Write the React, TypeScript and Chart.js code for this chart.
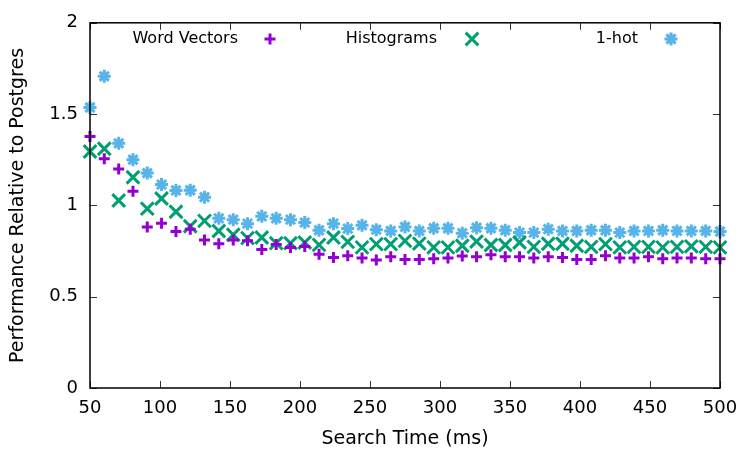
import React, { useEffect, useRef } from "react";
import { Chart, registerables } from "chart.js";

Chart.register(...registerables);

const searchTimes = [
  50, 60.2, 70.5, 80.7, 90.9, 101.1, 111.4, 121.6, 131.8, 142.0, 152.3, 162.5, 172.7, 183.0, 193.2,
  203.4, 213.6, 223.9, 234.1, 244.3, 254.5, 264.8, 275.0, 285.2, 295.5, 305.7, 315.9, 326.1, 336.4,
  346.6, 356.8, 367.0, 377.3, 387.5, 397.7, 408.0, 418.2, 428.4, 438.6, 448.9, 459.1, 469.3, 479.5,
  489.8, 500,
];

const wordVectors = [
  1.377, 1.255, 1.199, 1.078, 0.882, 0.902, 0.857, 0.87, 0.811, 0.79, 0.811, 0.806, 0.759, 0.786, 0.77,
  0.775, 0.732, 0.715, 0.724, 0.712, 0.701, 0.719, 0.704, 0.704, 0.708, 0.712, 0.723, 0.719, 0.73,
  0.719, 0.719, 0.712, 0.719, 0.715, 0.704, 0.704, 0.724, 0.712, 0.712, 0.719, 0.708, 0.712, 0.712,
  0.708, 0.708,
];

const histograms = [
  1.295, 1.31, 1.027, 1.154, 0.982, 1.038, 0.965, 0.886, 0.915, 0.86, 0.839, 0.821, 0.824, 0.793, 0.793,
  0.797, 0.784, 0.824, 0.8, 0.77, 0.788, 0.788, 0.806, 0.791, 0.77, 0.77, 0.779, 0.802, 0.783, 0.783,
  0.797, 0.773, 0.79, 0.79, 0.779, 0.773, 0.788, 0.77, 0.773, 0.773, 0.77, 0.773, 0.776, 0.773, 0.77,
];

const oneHot = [
  1.536, 1.707, 1.34, 1.25, 1.177, 1.114, 1.082, 1.083, 1.045, 0.929, 0.922, 0.9, 0.94, 0.929, 0.922,
  0.906, 0.864, 0.9, 0.873, 0.891, 0.867, 0.86, 0.882, 0.86, 0.875, 0.875, 0.848, 0.878, 0.875, 0.864,
  0.851, 0.851, 0.87, 0.86, 0.86, 0.864, 0.864, 0.851, 0.86, 0.86, 0.864, 0.86, 0.86, 0.86, 0.857,
];

const seriesNames = ["Word Vectors", "Histograms", "1-hot"];
const seriesColors = ["#9400D3", "#009E73", "#56B4E9"];
const seriesStyles = ["cross", "crossRot", "star"];
const seriesRadius = [5.5, 9, 6.5];

const xTitle = "Search Time (ms)";
const yTitle = "Performance Relative to Postgres";
const FONT = "'DejaVu Sans', sans-serif";

function drawMarker(ctx: CanvasRenderingContext2D, style: string, r: number, x: number, y: number) {
  ctx.beginPath();
  if (style === "cross" || style === "star") {
    ctx.moveTo(x - r, y);
    ctx.lineTo(x + r, y);
    ctx.moveTo(x, y - r);
    ctx.lineTo(x, y + r);
  }
  if (style === "crossRot" || style === "star") {
    const d = r * Math.SQRT1_2;
    ctx.moveTo(x - d, y - d);
    ctx.lineTo(x + d, y + d);
    ctx.moveTo(x + d, y - d);
    ctx.lineTo(x - d, y + d);
  }
  ctx.stroke();
}

const frame = {
  id: "gnuframe",
  afterDraw(chart: any) {
    const { ctx, chartArea } = chart;
    const { left, right, top, bottom } = chartArea;
    const xs = chart.scales.x;
    const ys = chart.scales.y;
    ctx.save();
    ctx.strokeStyle = "#333";
    ctx.lineWidth = 1;
    const tl = 7;
    xs.ticks.forEach((t: any) => {
      const px = Math.round(xs.getPixelForValue(t.value)) + 0.5;
      ctx.beginPath();
      ctx.moveTo(px, bottom);
      ctx.lineTo(px, bottom - tl);
      ctx.moveTo(px, top);
      ctx.lineTo(px, top + tl);
      ctx.stroke();
    });
    ys.ticks.forEach((t: any) => {
      const py = Math.round(ys.getPixelForValue(t.value)) + 0.5;
      ctx.beginPath();
      ctx.moveTo(left, py);
      ctx.lineTo(left + tl, py);
      ctx.moveTo(right, py);
      ctx.lineTo(right - tl, py);
      ctx.stroke();
    });
    ctx.strokeStyle = "#000";
    ctx.lineWidth = 1.5;
    ctx.strokeRect(left, top, right - left, bottom - top);
    ctx.fillStyle = "#000";
    ctx.font = `19px ${FONT}`;
    ctx.textAlign = "center";
    ctx.textBaseline = "middle";
    ctx.fillText(xTitle, (left + right) / 2, 439);
    ctx.save();
    ctx.translate(18, (top + bottom) / 2);
    ctx.rotate(-Math.PI / 2);
    ctx.fillText(yTitle, 0, 0);
    ctx.restore();
    const textEnds = [238, 437, 638];
    const markX = [270, 472, 671];
    const ly = 39;
    ctx.font = `16px ${FONT}`;
    ctx.textAlign = "right";
    for (let i = 0; i < seriesNames.length; i++) {
      ctx.fillStyle = "#000";
      ctx.fillText(seriesNames[i], textEnds[i], ly);
      ctx.strokeStyle = seriesColors[i];
      ctx.lineWidth = 3;
      drawMarker(ctx, seriesStyles[i], seriesRadius[i], markX[i], ly);
    }
    ctx.restore();
  },
};

export default function App() {
  const ref = useRef<HTMLCanvasElement>(null);
  useEffect(() => {
    document.body.style.margin = "0";
    const datasets = [wordVectors, histograms, oneHot].map((vals, i) => ({
      label: seriesNames[i],
      data: searchTimes.map((x, j) => ({ x, y: vals[j] })),
      showLine: false,
      pointStyle: seriesStyles[i],
      pointRadius: seriesRadius[i],
      pointHoverRadius: seriesRadius[i],
      pointBorderWidth: 3,
      pointBorderColor: seriesColors[i],
      pointBackgroundColor: seriesColors[i],
      borderColor: seriesColors[i],
      backgroundColor: seriesColors[i],
      clip: false as any,
    }));
    const chart = new Chart(ref.current!, {
      type: "scatter",
      data: { datasets },
      options: {
        responsive: false,
        animation: false,
        events: [],
        layout: { padding: { top: 20, right: 30, left: 0, bottom: 0 } },
        plugins: { legend: { display: false }, tooltip: { enabled: false } },
        scales: {
          x: {
            type: "linear",
            min: 50,
            max: 500,
            grid: { display: false, drawTicks: false },
            border: { display: false },
            ticks: {
              stepSize: 50,
              padding: 10,
              color: "#000",
              font: { family: FONT, size: 18 },
              maxRotation: 0,
              callback: (v: any) => String(v),
            },
            afterFit: (s: any) => {
              s.height = 62;
            },
          },
          y: {
            type: "linear",
            min: 0,
            max: 2,
            grid: { display: false, drawTicks: false },
            border: { display: false },
            ticks: {
              stepSize: 0.5,
              padding: 12,
              color: "#000",
              font: { family: FONT, size: 18 },
              callback: (v: any) => String(v),
            },
            afterFit: (s: any) => {
              s.width = 90;
            },
          },
        },
      },
      plugins: [frame],
    });
    return () => chart.destroy();
  }, []);
  return <canvas ref={ref} width={750} height={450} />;
}
